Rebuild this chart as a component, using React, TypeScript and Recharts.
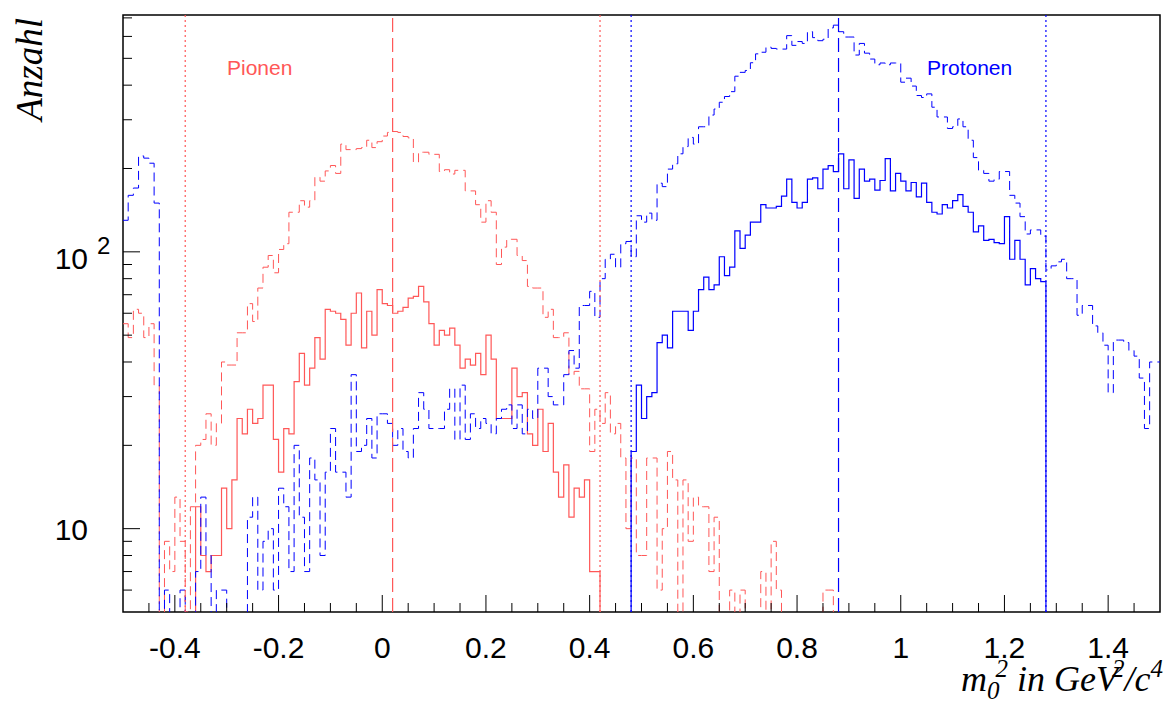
import { ComposedChart, Line, XAxis, YAxis, ReferenceLine, ReferenceArea } from "recharts";

// bin width of all four histograms (GeV^2/c^4)
const BIN = 0.01;
// empty bins are drawn below the log axis floor and get clipped
const FLOOR = 1;

// Pionen, alle Spuren (rot gestrichelt)
const pionAlleStart = -0.5;
const pionAlle = [
  55, 49, 62, 60, 49, 55, 33, 0, 9, 7,
  13, 9, 5, 12, 20, 21, 26, 20, 24, 40,
  39, 39, 51, 51, 65, 56, 74, 88, 97, 84,
  102, 107, 139, 139, 153, 145, 153, 186, 180, 196,
  205, 192, 245, 234, 234, 236, 238, 253, 238, 250,
  262, 270, 272, 270, 261, 258, 211, 229, 229, 225,
  225, 195, 198, 191, 197, 197, 166, 166, 148, 128,
  153, 139, 90, 104, 111, 111, 97, 93, 75, 74,
  74, 58, 62, 49, 49, 51, 36, 37, 32, 32,
  19, 27, 24, 31, 22, 24, 18, 10, 18, 8,
  8, 18, 18, 6, 10, 19, 15, 5, 15, 9,
  13, 12, 12, 7, 11, 0, 0, 6, 0, 6,
  0, 0, 0, 7, 0, 9, 6, 0, 0, 0,
  0, 0, 0, 0, 0, 6, 6, 0,
];

// Pionen nach Schnitt (rot durchgezogen)
const pionCutStart = -0.37;
const pionCut = [
  0, 12, 8, 7, 8, 8, 14,
  10, 15, 25, 22, 27, 24, 25, 33, 33, 21,
  16, 23, 22, 34, 43, 33, 38, 49, 41, 62,
  61, 60, 57, 46, 60, 71, 45, 61, 50, 73,
  65, 64, 60, 61, 63, 68, 69, 75, 66, 55,
  46, 52, 50, 53, 46, 38, 41, 39, 43, 36,
  50, 41, 25, 25, 25, 38, 30, 31, 22, 20,
  27, 19, 24, 16, 13, 17, 11, 14, 13, 15,
  7, 7, 0,
];

// Protonen, alle Spuren (blau gestrichelt)
const protonAlleStart = -0.5;
const protonAlle = [
  130, 160, 170, 222, 218, 209, 150, 0, 6, 0,
  0, 6, 0, 0, 7, 13, 8, 0, 6, 6,
  0, 0, 0, 0, 11, 13, 6, 9, 10, 6,
  14, 12, 7, 20, 11, 7, 18, 15, 8, 16,
  23, 16, 16, 13, 36, 19, 20, 25, 18, 26,
  26, 24, 20, 23, 19, 18, 23, 31, 27, 23,
  23, 23, 27, 32, 21, 33, 21, 26, 23, 25,
  24, 22, 25, 27, 28, 23, 28, 22, 27, 25,
  38, 38, 30, 28, 28, 36, 44, 38, 64, 64,
  72, 58, 80, 94, 98, 88, 107, 109, 96, 135,
  128, 138, 130, 177, 172, 199, 208, 226, 240, 259,
  245, 283, 283, 312, 328, 347, 364, 379, 431, 445,
  452, 482, 519, 526, 549, 543, 540, 540, 604, 557,
  575, 566, 624, 594, 579, 586, 644, 659, 624, 597,
  597, 514, 566, 522, 497, 474, 481, 474, 481, 481,
  410, 424, 397, 367, 361, 372, 333, 307, 307, 279,
  283, 302, 283, 253, 219, 197, 192, 180, 183, 195,
  195, 160, 150, 134, 116, 120, 120, 114, 86, 89,
  92, 94, 80, 80, 59, 64, 64, 54, 51, 46,
  31, 48, 48, 47, 44, 42, 35, 23, 40, 40,
];

// Protonen nach Schnitt (blau durchgezogen)
const protonCutStart = 0.47;
const protonCut = [
  0,
  19, 33, 25, 30, 31, 47, 50, 45, 61, 61,
  61, 52, 61, 73, 81, 73, 76, 96, 82, 88,
  119, 103, 115, 128, 128, 148, 144, 144, 146, 159,
  183, 151, 144, 151, 183, 185, 169, 199, 205, 195,
  226, 169, 215, 156, 199, 180, 183, 167, 181, 217,
  166, 192, 180, 166, 178, 158, 177, 151, 139, 137,
  148, 144, 153, 161, 146, 139, 118, 124, 110, 111,
  108, 107, 134, 94, 110, 94, 76, 87, 80, 78,
  0,
];

// Schnittgrenzen und Mittelwerte
const pionWindow = [-0.38, 0.42];
const pionMean = 0.02;
const protonWindow = [0.48, 1.28];
const protonMean = 0.88;

const xTicksMajor = [-0.4, -0.2, 0, 0.2, 0.4, 0.6, 0.8, 1, 1.2, 1.4];
const xTicksMinor = [
  -0.45, -0.35, -0.3, -0.25, -0.15, -0.1, -0.05, 0.05, 0.1, 0.15, 0.25, 0.3, 0.35,
  0.45, 0.5, 0.55, 0.65, 0.7, 0.75, 0.85, 0.9, 0.95, 1.05, 1.1, 1.15, 1.25, 1.3, 1.35, 1.45,
];
const yTicksMajor = [10, 100];
const yTicksMinor = [6, 7, 8, 9, 20, 30, 40, 50, 60, 70, 80, 90, 200, 300, 400, 500, 600, 700];

const RED = "#ff5757";
const BLUE = "#0000ff";
const SANS = "'Liberation Sans', Arial, Helvetica, sans-serif";
const SERIF = "'Liberation Serif', 'Times New Roman', serif";

function toSteps(start: number, values: number[]) {
  const pts = values.map((v, i) => ({
    x: Math.round((start + i * BIN) * 1000) / 1000,
    y: v > 0 ? v : FLOOR,
  }));
  pts.push({
    x: Math.round((start + values.length * BIN) * 1000) / 1000,
    y: pts[pts.length - 1].y,
  });
  return pts;
}

const isMajorX = (v: number) => xTicksMajor.some((m) => Math.abs(m - v) < 1e-6);

function XTick(props: any) {
  const { x, y, payload } = props;
  const major = isMajorX(payload.value);
  return (
    <g>
      <line x1={x} x2={x} y1={y} y2={y - (major ? 17 : 9)} stroke="#000" strokeWidth={1} />
      {major && (
        <text x={x} y={y + 46} textAnchor="middle" fontFamily={SANS} fontSize={30} fill="#000">
          {String(payload.value)}
        </text>
      )}
    </g>
  );
}

function YTick(props: any) {
  const { x, y, payload } = props;
  const major = yTicksMajor.includes(payload.value);
  return (
    <g>
      <line x1={x} x2={x + (major ? 17 : 9)} y1={y} y2={y} stroke="#000" strokeWidth={1} />
      {payload.value === 10 && (
        <text x={x - 35} y={y + 11} textAnchor="end" fontFamily={SANS} fontSize={30} fill="#000">
          10
        </text>
      )}
      {payload.value === 100 && (
        <g>
          <text x={x - 35} y={y + 17} textAnchor="end" fontFamily={SANS} fontSize={30} fill="#000">
            10
          </text>
          <text x={x - 26} y={y + 2} fontFamily={SANS} fontSize={24} fill="#000">
            2
          </text>
        </g>
      )}
    </g>
  );
}

export default function App() {
  const pionAllePts = toSteps(pionAlleStart, pionAlle);
  const pionCutPts = toSteps(pionCutStart, pionCut);
  const protonAllePts = toSteps(protonAlleStart, protonAlle);
  const protonCutPts = toSteps(protonCutStart, protonCut);

  return (
    <div style={{ position: "absolute", left: 0, top: 0, width: 1174, height: 702, background: "#fff" }}>
      <ComposedChart width={1174} height={702} margin={{ top: 15, right: 14, bottom: 50, left: 63 }}>
        <XAxis
          dataKey="x"
          type="number"
          domain={[-0.5, 1.5]}
          allowDataOverflow
          ticks={[...xTicksMajor, ...xTicksMinor]}
          interval={0}
          tick={<XTick />}
          tickLine={false}
          tickSize={0}
          tickMargin={0}
          axisLine={false}
          height={40}
        />
        <YAxis
          dataKey="y"
          type="number"
          scale="log"
          domain={[5, 717]}
          allowDataOverflow
          ticks={[...yTicksMajor, ...yTicksMinor]}
          interval={0}
          tick={<YTick />}
          tickLine={false}
          tickSize={0}
          tickMargin={0}
          axisLine={false}
          width={60}
        />
        <ReferenceArea x1={-0.5} x2={1.5} y1={5} y2={717} fill="none" stroke="#000" strokeWidth={1.5} />

        <Line data={pionAllePts} dataKey="y" type="stepAfter" stroke={RED} strokeWidth={1}
          strokeDasharray="9 5" dot={false} activeDot={false} isAnimationActive={false} />
        <Line data={pionCutPts} dataKey="y" type="stepAfter" stroke={RED} strokeWidth={1.2}
          dot={false} activeDot={false} isAnimationActive={false} />
        <Line data={protonAllePts} dataKey="y" type="stepAfter" stroke={BLUE} strokeWidth={1}
          strokeDasharray="9 5" dot={false} activeDot={false} isAnimationActive={false} />
        <Line data={protonCutPts} dataKey="y" type="stepAfter" stroke={BLUE} strokeWidth={1.2}
          dot={false} activeDot={false} isAnimationActive={false} />

        {pionWindow.map((v) => (
          <ReferenceLine key={"pw" + v} x={v} stroke={RED} strokeDasharray="2 3" strokeWidth={1.2} />
        ))}
        <ReferenceLine x={pionMean} stroke={RED} strokeDasharray="14 6" strokeWidth={1.2} />
        {protonWindow.map((v) => (
          <ReferenceLine key={"kw" + v} x={v} stroke={BLUE} strokeDasharray="2 3" strokeWidth={1.2} />
        ))}
        <ReferenceLine x={protonMean} stroke={BLUE} strokeDasharray="14 6" strokeWidth={1.2} />
      </ComposedChart>

      <svg width={1174} height={702} style={{ position: "absolute", left: 0, top: 0, pointerEvents: "none" }}>
        <text x={227} y={75} fontFamily={SANS} fontSize={21} fill={RED}>Pionen</text>
        <text x={927} y={75} fontFamily={SANS} fontSize={21} fill={BLUE}>Protonen</text>
        <text transform="translate(42,18) rotate(-90)" textAnchor="end" fontFamily={SERIF}
          fontStyle="italic" fontSize={37} fill="#000">Anzahl</text>
        <text x={1163} y={691} textAnchor="end" fontFamily={SERIF} fontStyle="italic" fontSize={36} fill="#000">
          m<tspan dy={8} fontSize={25}>0</tspan><tspan dx={-4} dy={-22} fontSize={25}>2</tspan>
          <tspan dy={14}> in GeV</tspan><tspan dx={-6} dy={-14} fontSize={25}>2</tspan>
          <tspan dy={14}>/c</tspan><tspan dy={-14} fontSize={25}>4</tspan>
        </text>
      </svg>
    </div>
  );
}
